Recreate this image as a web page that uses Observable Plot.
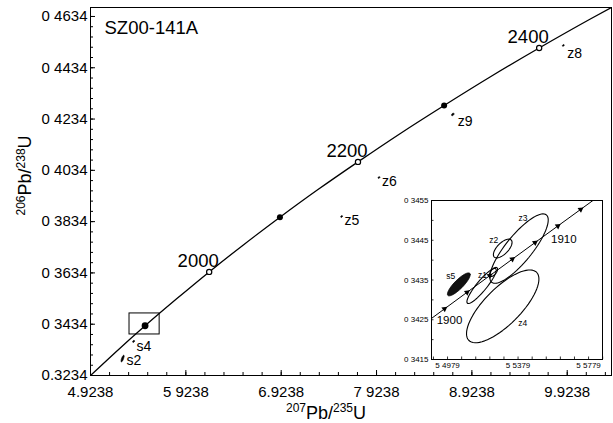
<!DOCTYPE html>
<html>
<head>
<meta charset="utf-8">
<script src="https://cdn.jsdelivr.net/npm/d3@7"></script>
<script src="https://cdn.jsdelivr.net/npm/@observablehq/plot@0.6"></script>
<style>
  html, body { margin: 0; padding: 0; background: #fff; }
  #chart { position: relative; width: 613px; height: 423px; }
  #chart svg { position: absolute; overflow: visible; }
</style>
</head>
<body>
<div id="chart"></div>
<script>
// ---- Sample and axes -------------------------------------------------------
const sampleTitle = "SZ00-141A";
const xAxisLabel = "207Pb/235U";
const yAxisLabel = "206Pb/238U";

const xTicks = [4.9238, 5.9238, 6.9238, 7.9238, 8.9238, 9.9238];
const xTickLabels = ["4.9238", "5 9238", "6.9238", "7 9238", "8.9238", "9.9238"];
const yTicks = [0.3234, 0.3434, 0.3634, 0.3834, 0.4034, 0.4234, 0.4434, 0.4634];
const yTickLabels = ["0.3234", "0 3434", "0 3634", "0 3834", "0 4034", "0 4234", "0 4434", "0 4634"];

// ---- Concordia (age in Ma) ---------------------------------------------------
const concordiaAge = [1800, 1850, 1900, 1950, 2000, 2050, 2100, 2150, 2200, 2250, 2300, 2350, 2400, 2450, 2500];
const concordiaPb207U235 = [4.8869, 5.1840, 5.4962, 5.8241, 6.1685, 6.5304, 6.9105, 7.3097, 7.7292, 8.1698, 8.6326, 9.1188, 9.6295, 10.1661, 10.7297];
const concordiaPb206U238 = [0.3221, 0.3324, 0.3428, 0.3532, 0.3638, 0.3744, 0.3851, 0.3959, 0.4067, 0.4177, 0.4287, 0.4399, 0.4511, 0.4624, 0.4738];

// Age markers on the concordia
const markerAge = [1900, 2000, 2100, 2200, 2300, 2400];
const markerPb207U235 = [5.4962, 6.1685, 6.9105, 7.7292, 8.6326, 9.6295];
const markerPb206U238 = [0.3428, 0.3638, 0.3851, 0.4067, 0.4287, 0.4511];
const markerOpen = [false, true, false, true, false, true];
const markerLabelled = [false, true, false, true, false, true];

// ---- Analyses (207/235, 206/238, 1-sigma errors, error correlation) ----------
const spotName = ["s2", "s4", "z5", "z6", "z9", "z8"];
const spotPb207U235 = [5.260, 5.3755, 7.557, 7.949, 8.723, 9.882];
const spotPb206U238 = [0.3300, 0.3367, 0.3854, 0.4006, 0.4252, 0.4521];
const spotSigma207 = [0.016, 0.010, 0.009, 0.009, 0.013, 0.009];
const spotSigma206 = [0.0013, 0.0004, 0.00035, 0.00035, 0.0005, 0.00035];
const spotRho = [0.72, 0.35, 0.35, 0.35, 0.45, 0.35];

// Region enlarged in the inset
const zoomBoxPb207U235 = [5.333, 5.649];
const zoomBoxPb206U238 = [0.3394, 0.3476];

// ---- Inset ---------------------------------------------------------------------
const insetXTicks = [5.4979, 5.5379, 5.5779];
const insetXTickLabels = ["5 4979", "5 5379", "5 5779"];
const insetYTicks = [0.3415, 0.3425, 0.3435, 0.3445, 0.3455];
const insetYTickLabels = ["0 3415", "0 3425", "0 3435", "0 3445", "0 3455"];

const insetAge = [1898, 1900, 1902, 1904, 1906, 1908, 1910, 1912, 1914];
const insetPb207U235 = [5.48340, 5.49618, 5.50899, 5.52182, 5.53468, 5.54756, 5.56047, 5.57341, 5.58637];
const insetPb206U238 = [0.342357, 0.342774, 0.343191, 0.343608, 0.344025, 0.344442, 0.344859, 0.345276, 0.345693];
const insetLabelledAge = [1900, 1910];

const grainName = ["s5", "z1", "z1b", "z2", "z3", "z4"];
const grainPb207U235 = [5.5043, 5.5172, 5.5240, 5.5292, 5.53845, 5.5292];
const grainPb206U238 = [0.34339, 0.34335, 0.343703, 0.344292, 0.34429, 0.342837];
const grainSigma207 = [0.00647, 0.00831, 0.00227, 0.00529, 0.01657, 0.02054];
const grainSigma206 = [0.000289, 0.000441, 0.000114, 0.000236, 0.000873, 0.000916];
const grainRho = [0.85, 0.90, 0.6, 0.65, 0.825, 0.75];
const grainFilled = [true, false, false, false, false, false];

// ---- Styling --------------------------------------------------------------------
const FONT = "'Liberation Sans', Arial, Helvetica, sans-serif";
const W = 613, H = 423;
const M = {left: 90, right: 2, top: 7, bottom: 48};
const innerW = W - M.left - M.right;
const innerH = H - M.top - M.bottom;

const spotLabelOffset = {s2: [4, 2], s4: [3, 5], z5: [3, 4], z6: [3, 4], z9: [5, 7], z8: [4, 8]};
const grainLabelOffset = {s5: [-8, -8], z1: [1, -11], z2: [-9, -8], z3: [4, -30], z4: [20, 17]};
const insetAgeOffset = {1900: [5, 11], 1910: [6, 13]};

// Outline of a correlated error ellipse in data units
function ellipseOutline(name, cx, cy, sx, sy, rho, n = 72) {
  const k = Math.sqrt(1 - rho * rho);
  return d3.range(n + 1).map(j => {
    const a = (2 * Math.PI * j) / n;
    return {name, x: cx + sx * Math.cos(a), y: cy + sy * (rho * Math.cos(a) + k * Math.sin(a))};
  });
}

const concordia = concordiaAge.map((t, i) => ({t, x: concordiaPb207U235[i], y: concordiaPb206U238[i]}));
const markers = markerAge.map((t, i) => ({t, x: markerPb207U235[i], y: markerPb206U238[i], open: markerOpen[i], labelled: markerLabelled[i]}));
const spots = spotName.map((name, i) => ({name, x: spotPb207U235[i], y: spotPb206U238[i]}));
const spotOutlines = spots.flatMap((s, i) => ellipseOutline(s.name, s.x, s.y, spotSigma207[i], spotSigma206[i], spotRho[i], 36));

const insetLine = insetAge.map((t, i) => ({t, x: insetPb207U235[i], y: insetPb206U238[i]}));
const grains = grainName.map((name, i) => ({name, x: grainPb207U235[i], y: grainPb206U238[i], filled: grainFilled[i]}));
const grainOutlines = grains.flatMap((g, i) => ellipseOutline(g.name, g.x, g.y, grainSigma207[i], grainSigma206[i], grainRho[i]));

const xMinor = d3.range(4.9238, 10.39, 0.2);
const yMinor = d3.range(0.3234, 0.4669, 0.004);

// ---- Main concordia diagram -------------------------------------------------------
const mainPlot = Plot.plot({
  width: W,
  height: H,
  marginLeft: M.left,
  marginRight: M.right,
  marginTop: M.top,
  marginBottom: M.bottom,
  style: {fontFamily: FONT, fontSize: "15px", color: "black", background: "transparent"},
  x: {domain: [4.9238, 10.3882]},
  y: {domain: [0.3234, 0.4669]},
  marks: [
    Plot.frame({stroke: "black", strokeWidth: 1}),
    Plot.ruleX(xMinor, {insetTop: innerH - 3, stroke: "black"}),
    Plot.ruleX(xTicks, {insetTop: innerH - 5, stroke: "black"}),
    Plot.ruleY(yMinor, {insetRight: innerW - 3, stroke: "black"}),
    Plot.ruleY(yTicks, {insetRight: innerW - 5, stroke: "black"}),
    Plot.axisX(xTicks, {tickSize: 0, tickPadding: 11, label: null, fontSize: 15,
      tickFormat: d => xTickLabels[xTicks.indexOf(d)]}),
    Plot.axisY(yTicks, {tickSize: 0, tickPadding: 3, label: null, fontSize: 15,
      tickFormat: d => yTickLabels[yTicks.indexOf(d)]}),
    Plot.line(concordia, {x: "x", y: "y", curve: "natural", stroke: "black", strokeWidth: 1.3, clip: true}),
    Plot.rect([0], {x1: () => zoomBoxPb207U235[0], x2: () => zoomBoxPb207U235[1],
      y1: () => zoomBoxPb206U238[0], y2: () => zoomBoxPb206U238[1], fill: "none", stroke: "black", strokeWidth: 1}),
    Plot.dot(markers.filter(d => !d.open), {x: "x", y: "y", r: d => (d.t === 1900 ? 3.6 : 2.8), fill: "black", stroke: "none"}),
    Plot.dot(markers.filter(d => d.open), {x: "x", y: "y", r: 2.6, fill: "white", stroke: "black", strokeWidth: 1.2}),
    Plot.text(markers.filter(d => d.labelled), {x: "x", y: "y", text: d => String(d.t),
      dx: -11, dy: -10.5, fontSize: 18.5, fill: "black"}),
    Plot.line(spotOutlines, {x: "x", y: "y", z: "name", fill: "black", stroke: "black", strokeWidth: 0.6}),
    ...spots.map(s => Plot.text([s], {x: "x", y: "y", text: "name", textAnchor: "start",
      dx: spotLabelOffset[s.name][0], dy: spotLabelOffset[s.name][1], fontSize: 14, fill: "black"})),
    Plot.text([sampleTitle], {frameAnchor: "top-left", dx: 14, dy: 26, textAnchor: "start", lineAnchor: "bottom", fontSize: 18.5, fill: "black"}),
    Plot.text([xAxisLabel], {frameAnchor: "bottom", dx: -25, dy: 43, lineAnchor: "bottom", fontSize: 18, fill: "black"}),
    Plot.text([yAxisLabel], {frameAnchor: "left", dx: -65, dy: 24, rotate: -90, fontSize: 18, fill: "black"})
  ]
});

// ---- Inset: enlargement around 1900 Ma -----------------------------------------------
const IW = 233, IH = 190;
const IM = {left: 51, right: 11, top: 10, bottom: 21};
const insetInnerW = IW - IM.left - IM.right;
const insetInnerH = IH - IM.top - IM.bottom;

const insetPlot = Plot.plot({
  width: IW,
  height: IH,
  marginLeft: IM.left,
  marginRight: IM.right,
  marginTop: IM.top,
  marginBottom: IM.bottom,
  style: {fontFamily: FONT, fontSize: "8px", color: "black", background: "transparent"},
  x: {domain: [5.4888, 5.5858]},
  y: {domain: [0.3415, 0.3455]},
  marks: [
    Plot.frame({fill: "white", stroke: "black", strokeWidth: 1}),
    Plot.ruleX(d3.range(5.4899, 5.586, 0.008), {insetTop: insetInnerH - 2.5, stroke: "black", strokeWidth: 0.8}),
    Plot.ruleY(d3.range(0.3415, 0.34555, 0.0005), {insetRight: insetInnerW - 2.5, stroke: "black", strokeWidth: 0.8}),
    Plot.axisX(insetXTicks, {tickSize: 0, tickPadding: 3, label: null, fontSize: 8,
      tickFormat: d => insetXTickLabels[insetXTicks.indexOf(d)]}),
    Plot.axisY(insetYTicks, {tickSize: 0, tickPadding: 3, label: null, fontSize: 8,
      tickFormat: d => insetYTickLabels[insetYTicks.indexOf(d)]}),
    Plot.line(insetLine, {x: "x", y: "y", stroke: "black", strokeWidth: 1, clip: true}),
    Plot.dot(insetLine.filter(d => d.t >= 1900 && d.t <= 1912), {x: "x", y: "y", symbol: "triangle", r: 2.2,
      rotate: 54, fill: "black", stroke: "none", clip: true}),
    Plot.text(insetLine.filter(d => insetLabelledAge.includes(d.t)), {x: "x", y: "y", text: d => String(d.t),
      fontSize: 11.5, fill: "black", textAnchor: "middle"}),
    Plot.line(grainOutlines.filter(d => grains.find(g => g.name === d.name).filled),
      {x: "x", y: "y", z: "name", fill: "#111", stroke: "black", strokeWidth: 0.8, clip: true}),
    Plot.line(grainOutlines.filter(d => !grains.find(g => g.name === d.name).filled),
      {x: "x", y: "y", z: "name", fill: "none", stroke: "black", strokeWidth: 1.1, clip: true}),
    ...grains.filter(g => grainLabelOffset[g.name]).map(g => Plot.text([g], {x: "x", y: "y", text: "name",
      dx: grainLabelOffset[g.name][0], dy: grainLabelOffset[g.name][1], fontSize: 8.5, fill: "black"}))
  ]
});

// Position the age labels of the inset individually
insetPlot.querySelectorAll("text").forEach(el => {
  const key = el.textContent;
  if (insetAgeOffset[key]) {
    const [dx, dy] = insetAgeOffset[key];
    el.setAttribute("dx", dx);
    el.setAttribute("dy", dy);
  }
});

// Isotope ratios with raised mass numbers
function setRatioLabel(svg, plain, supSize, shift) {
  const parts = plain.match(/\d+|[^\d]+/g);
  svg.querySelectorAll("text").forEach(el => {
    if (el.textContent !== plain) return;
    el.textContent = "";
    let raised = false;
    for (const s of parts) {
      const ts = document.createElementNS("http://www.w3.org/2000/svg", "tspan");
      ts.textContent = s;
      const isSup = /^\d+$/.test(s);
      if (isSup) {
        ts.setAttribute("font-size", supSize);
        if (!raised) ts.setAttribute("dy", -shift);
        raised = true;
      } else if (raised) {
        ts.setAttribute("dy", shift);
        raised = false;
      }
      el.appendChild(ts);
    }
  });
}
setRatioLabel(mainPlot, xAxisLabel, 12, 6.5);
setRatioLabel(mainPlot, yAxisLabel, 12, 6.5);

mainPlot.style.left = "0px";
mainPlot.style.top = "0px";
insetPlot.style.left = "380px";
insetPlot.style.top = "190px";

const chart = document.getElementById("chart");
chart.appendChild(mainPlot);
chart.appendChild(insetPlot);
</script>
</body>
</html>
